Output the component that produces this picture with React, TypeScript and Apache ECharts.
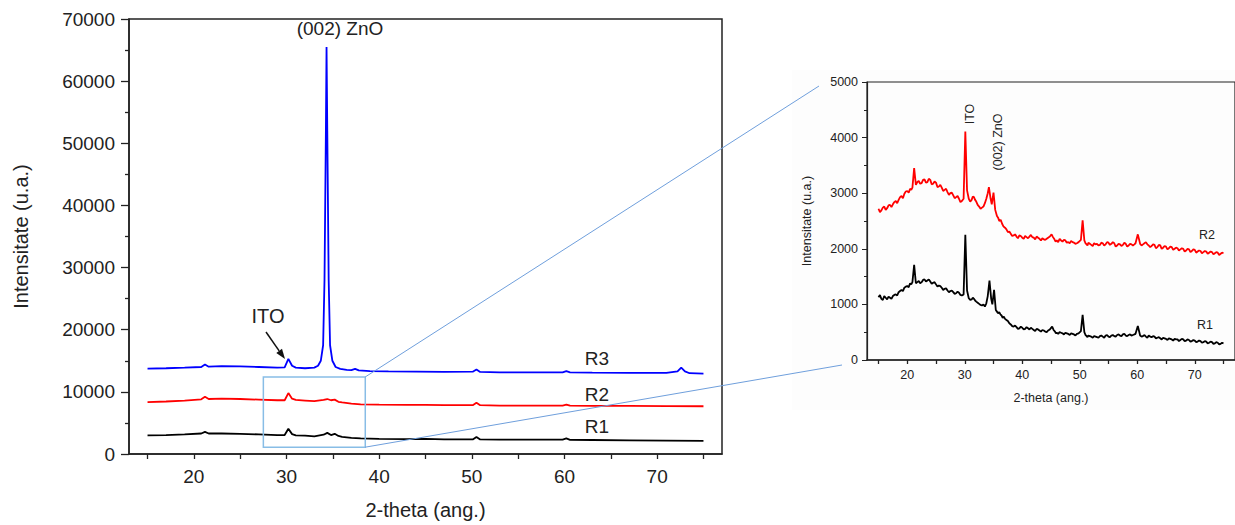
import React, { useEffect, useRef } from "react";
import * as echarts from "echarts";

// ---------- main chart data: [2-theta, intensity] ----------
const mainR3: number[][] = [
  [15, 13750], [17, 13800], [19, 13900], [20.8, 14000], [21.2, 14400], [21.6, 14050], [23, 14150], [25, 14100],
  [27, 14000], [29, 13900], [29.8, 13950], [30.2, 15300], [30.6, 14200], [31, 13900], [32, 13800], [33, 13900],
  [33.4, 14200], [33.7, 15000], [33.95, 17500], [34.1, 28000], [34.25, 52000], [34.32, 65500], [34.4, 52000],
  [34.55, 28000], [34.7, 17500], [34.95, 15000], [35.3, 14000], [35.8, 13700], [36.5, 13550], [37, 13500],
  [37.4, 13700], [37.8, 13450], [39, 13350], [41, 13300], [44, 13250], [47, 13200], [50.1, 13250], [50.5, 13600],
  [50.9, 13200], [53, 13150], [56, 13150], [59.8, 13150], [60.2, 13350], [60.6, 13150], [63, 13100], [67, 13050],
  [71, 13050], [72.2, 13300], [72.6, 13900], [73, 13300], [73.5, 13000], [75, 12950],
];
const mainR2: number[][] = [
  [15, 8350], [17, 8450], [19, 8600], [20.8, 8800], [21.2, 9200], [21.6, 8850], [23, 8900], [25, 8850],
  [27, 8750], [29, 8650], [29.8, 8650], [30.2, 9800], [30.6, 8900], [31, 8700], [32, 8600], [33, 8500],
  [34, 8700], [34.4, 8850], [34.8, 8650], [35.2, 8750], [35.6, 8400], [36, 8300], [37, 8100], [38, 8000],
  [40, 7950], [43, 7900], [45, 7920], [47, 7850], [50.1, 7850], [50.5, 8250], [50.9, 7850], [53, 7800],
  [56, 7800], [59.8, 7800], [60.2, 7950], [60.6, 7780], [63, 7750], [67, 7730], [71, 7700], [75, 7680],
];
const mainR1: number[][] = [
  [15, 3000], [17, 3050], [19, 3150], [20.8, 3300], [21.2, 3550], [21.6, 3300], [23, 3300], [25, 3250],
  [27, 3150], [29, 3050], [29.8, 3050], [30.2, 4050], [30.6, 3200], [31, 3000], [32, 2950], [33, 2850],
  [34, 3100], [34.4, 3400], [34.8, 3050], [35.2, 3250], [35.6, 2900], [36, 2750], [37, 2600], [38, 2500],
  [40, 2450], [43, 2400], [45, 2420], [47, 2350], [50.1, 2350], [50.5, 2750], [50.9, 2350], [53, 2300],
  [56, 2300], [59.8, 2300], [60.2, 2500], [60.6, 2280], [63, 2250], [67, 2200], [71, 2150], [75, 2100],
];

// ---------- inset data ----------
const insetR2: number[][] = [
  [15, 2720], [15.25, 2660], [15.5, 2690], [15.75, 2740], [16, 2760], [16.25, 2700], [16.5, 2730], [16.75, 2780],
  [17, 2790], [17.25, 2750], [17.5, 2800], [17.75, 2840], [18, 2860], [18.25, 2820], [18.5, 2880], [18.75, 2930],
  [19, 2950], [19.25, 2910], [19.5, 2990], [19.75, 3030], [20, 3040], [20.25, 3010], [20.5, 3080], [20.7, 3060],
  [20.9, 3100], [21.2, 3450], [21.5, 3150], [21.75, 3200], [22, 3220], [22.25, 3170], [22.5, 3180], [22.75, 3240],
  [23, 3250], [23.25, 3190], [23.5, 3200], [23.75, 3260], [24, 3240], [24.25, 3160], [24.5, 3170], [24.75, 3210],
  [25, 3190], [25.25, 3110], [25.5, 3120], [25.75, 3150], [26, 3100], [26.25, 3040], [26.5, 3060], [26.75, 3080],
  [27, 3020], [27.25, 2970], [27.5, 3000], [27.75, 3010], [28, 2960], [28.25, 2910], [28.5, 2930], [28.75, 2950],
  [29, 2900], [29.25, 2840], [29.5, 2860], [29.8, 2900], [30.1, 4110], [30.4, 3050], [30.7, 2900], [30.95, 2850],
  [31.2, 2880], [31.4, 2940], [31.6, 2930], [31.8, 2880], [32, 2850], [32.25, 2790], [32.5, 2760], [32.75, 2720],
  [33, 2740], [33.25, 2760], [33.5, 2820], [33.75, 2900], [34, 3000], [34.2, 3110], [34.5, 2900], [34.7, 2800],
  [35.0, 3010], [35.3, 2700], [35.6, 2590], [35.8, 2560], [36, 2500], [36.25, 2520], [36.5, 2450], [36.75, 2400],
  [37, 2380], [37.25, 2350], [37.5, 2300], [37.75, 2310], [38, 2270], [38.25, 2230], [38.5, 2240], [38.75, 2260],
  [39, 2220], [39.25, 2190], [39.5, 2240], [39.75, 2230], [40, 2200], [40.25, 2180], [40.5, 2230], [40.75, 2210],
  [41, 2190], [41.25, 2220], [41.5, 2250], [41.75, 2210], [42, 2200], [42.25, 2170], [42.5, 2220], [42.75, 2200],
  [43, 2180], [43.25, 2150], [43.5, 2190], [43.75, 2170], [44, 2160], [44.25, 2180], [44.5, 2200], [44.8, 2220],
  [45.1, 2260], [45.35, 2210], [45.6, 2170], [45.8, 2130], [46, 2150], [46.25, 2120], [46.5, 2180], [46.75, 2150],
  [47, 2130], [47.25, 2160], [47.5, 2150], [47.75, 2110], [48, 2120], [48.25, 2100], [48.5, 2140], [48.75, 2120],
  [49, 2110], [49.25, 2090], [49.5, 2100], [49.8, 2120], [50.2, 2160], [50.5, 2510], [50.8, 2150], [51.0, 2100],
  [51.2, 2080], [51.35, 2060], [51.5, 2110], [51.75, 2090], [52, 2070], [52.25, 2050], [52.5, 2100], [52.75, 2080],
  [53, 2090], [53.25, 2060], [53.5, 2070], [53.75, 2110], [54, 2100], [54.25, 2060], [54.5, 2080], [54.75, 2120],
  [55, 2110], [55.25, 2070], [55.5, 2090], [55.75, 2120], [56, 2100], [56.25, 2040], [56.5, 2060], [56.75, 2090],
  [57, 2080], [57.25, 2050], [57.5, 2070], [57.75, 2110], [58, 2090], [58.25, 2040], [58.5, 2060], [58.75, 2090],
  [59, 2080], [59.25, 2060], [59.5, 2080], [59.7, 2100], [60.1, 2260], [60.5, 2090], [60.75, 2060], [61, 2080],
  [61.25, 2100], [61.5, 2120], [61.75, 2080], [62, 2060], [62.25, 2030], [62.5, 2050], [62.75, 2080], [63, 2070],
  [63.25, 2010], [63.5, 2030], [63.75, 2070], [64, 2060], [64.25, 2000], [64.5, 2020], [64.75, 2050], [65, 2040],
  [65.25, 1990], [65.5, 2010], [65.75, 2040], [66, 2030], [66.25, 1980], [66.5, 2000], [66.75, 2020], [67, 2010],
  [67.25, 1970], [67.5, 1990], [67.75, 2010], [68, 2000], [68.25, 1950], [68.5, 1970], [68.75, 2000], [69, 1990],
  [69.25, 1940], [69.5, 1960], [69.75, 1990], [70, 1980], [70.25, 1930], [70.5, 1950], [70.75, 1970], [71, 1960],
  [71.25, 1920], [71.5, 1940], [71.75, 1960], [72, 1950], [72.25, 1910], [72.5, 1930], [72.75, 1950], [73, 1940],
  [73.25, 1900], [73.5, 1920], [73.75, 1940], [74, 1930], [74.25, 1890], [74.5, 1910], [74.75, 1930], [75, 1920],
];
const insetR1: number[][] = [
  [15, 1130], [15.25, 1170], [15.5, 1100], [15.75, 1080], [16, 1150], [16.25, 1120], [16.5, 1090], [16.75, 1140],
  [17, 1120], [17.25, 1100], [17.5, 1150], [17.75, 1170], [18, 1180], [18.25, 1160], [18.5, 1220], [18.75, 1240],
  [19, 1260], [19.25, 1240], [19.5, 1300], [19.75, 1320], [20, 1330], [20.25, 1310], [20.5, 1380], [20.7, 1360],
  [20.9, 1400], [21.2, 1710], [21.5, 1380], [21.75, 1400], [22, 1420], [22.25, 1380], [22.5, 1400], [22.75, 1440],
  [23, 1450], [23.25, 1410], [23.5, 1430], [23.75, 1450], [24, 1410], [24.25, 1370], [24.5, 1390], [24.75, 1400],
  [25, 1360], [25.25, 1320], [25.5, 1340], [25.75, 1330], [26, 1300], [26.25, 1260], [26.5, 1280], [26.75, 1290],
  [27, 1250], [27.25, 1220], [27.5, 1240], [27.75, 1250], [28, 1220], [28.25, 1190], [28.5, 1200], [28.75, 1230],
  [29, 1210], [29.25, 1170], [29.5, 1160], [29.8, 1180], [30.1, 2250], [30.4, 1250], [30.7, 1110], [30.95, 1080],
  [31.2, 1090], [31.4, 1120], [31.6, 1100], [31.8, 1070], [32, 1050], [32.25, 1030], [32.5, 1010], [32.75, 990],
  [33, 980], [33.25, 1000], [33.5, 960], [33.75, 1020], [34, 1150], [34.3, 1430], [34.6, 1100], [34.8, 1000],
  [35.1, 1260], [35.4, 900], [35.6, 870], [35.8, 840], [36, 860], [36.2, 820], [36.4, 800], [36.6, 760],
  [36.8, 780], [37, 740], [37.25, 720], [37.5, 700], [37.75, 660], [38, 640], [38.25, 610], [38.5, 600],
  [38.75, 620], [39, 590], [39.25, 560], [39.5, 570], [39.75, 600], [40, 580], [40.25, 550], [40.5, 560],
  [40.75, 590], [41, 570], [41.25, 550], [41.5, 580], [41.75, 560], [42, 540], [42.25, 520], [42.5, 560],
  [42.75, 550], [43, 530], [43.25, 510], [43.5, 540], [43.75, 530], [44, 510], [44.25, 500], [44.5, 530],
  [44.8, 550], [45.2, 600], [45.45, 540], [45.7, 510], [45.85, 480], [46, 490], [46.25, 470], [46.5, 500],
  [46.75, 490], [47, 480], [47.25, 460], [47.5, 490], [47.75, 480], [48, 470], [48.25, 450], [48.5, 480],
  [48.75, 470], [49, 460], [49.25, 440], [49.5, 470], [49.8, 480], [50.2, 520], [50.5, 810], [50.8, 500],
  [51.0, 450], [51.2, 430], [51.35, 410], [51.5, 440], [51.75, 430], [52, 420], [52.25, 400], [52.5, 430],
  [52.75, 420], [53, 410], [53.25, 400], [53.5, 430], [53.75, 440], [54, 420], [54.25, 400], [54.5, 440],
  [54.75, 450], [55, 420], [55.25, 410], [55.5, 440], [55.75, 450], [56, 430], [56.25, 420], [56.5, 450],
  [56.75, 460], [57, 440], [57.25, 430], [57.5, 460], [57.75, 470], [58, 440], [58.25, 430], [58.5, 450],
  [58.75, 460], [59, 440], [59.25, 450], [59.5, 460], [59.7, 470], [60.1, 610], [60.5, 440], [60.75, 420],
  [61, 430], [61.25, 450], [61.5, 420], [61.75, 400], [62, 440], [62.25, 420], [62.5, 410], [62.75, 430],
  [63, 420], [63.25, 390], [63.5, 400], [63.75, 410], [64, 390], [64.25, 370], [64.5, 400], [64.75, 390],
  [65, 380], [65.25, 360], [65.5, 390], [65.75, 380], [66, 370], [66.25, 350], [66.5, 380], [66.75, 370],
  [67, 370], [67.25, 340], [67.5, 360], [67.75, 380], [68, 370], [68.25, 340], [68.5, 350], [68.75, 370],
  [69, 360], [69.25, 330], [69.5, 340], [69.75, 360], [70, 350], [70.25, 320], [70.5, 330], [70.75, 350],
  [71, 340], [71.25, 310], [71.5, 320], [71.75, 340], [72, 330], [72.25, 300], [72.5, 310], [72.75, 330],
  [73, 320], [73.25, 290], [73.5, 300], [73.75, 320], [74, 310], [74.25, 280], [74.5, 290], [74.75, 310],
  [75, 300],
];

// tick values
const xTickValues = [15, 20, 25, 30, 35, 40, 45, 50, 55, 60, 65, 70, 75];
const xLabelValues = [20, 30, 40, 50, 60, 70];
// zoom box in main data coords: [x0, x1, y0, y1]
const zoomBox = [27.5, 38.5, 1100, 12400];

const FONT = "'Liberation Sans', Arial, sans-serif";

export default function App() {
  const ref = useRef<HTMLDivElement>(null);
  useEffect(() => {
    if (!ref.current) return;
    const chart = echarts.init(ref.current, null, { renderer: "svg" });
    const plain = (v: number) => String(v);
    const mkX = (gridIndex: number, fs: number, margin: number, tickLen: number, name: string, nameGap: number, nameFs: number) => ({
      type: "value", gridIndex, min: 13, max: 77,
      name, nameLocation: "middle", nameGap,
      nameTextStyle: { fontSize: nameFs, color: "#222", fontFamily: FONT },
      axisLine: { show: true, onZero: false, lineStyle: { color: "#222", width: 1.5 } },
      axisTick: { show: true, inside: false, length: tickLen, customValues: xTickValues, lineStyle: { color: "#222", width: 1.3 } },
      axisLabel: { customValues: xLabelValues, fontSize: fs, color: "#222", fontFamily: FONT, margin, formatter: plain },
      splitLine: { show: false },
    });
    const option: any = {
      animation: false,
      backgroundColor: "#fff",
      grid: [
        { left: 129, top: 19, width: 593, height: 436, show: true, borderColor: "#222", borderWidth: 1.5, backgroundColor: "transparent" },
        { left: 867, top: 82, width: 380, height: 278, show: true, borderColor: "#222", borderWidth: 1.2, backgroundColor: "transparent" },
      ],
      xAxis: [
        mkX(0, 19, 13, 5, "2-theta (ang.)", 46, 20),
        mkX(1, 12.5, 8, 4, "2-theta (ang.)", 31, 12.5),
      ],
      yAxis: [
        {
          type: "value", gridIndex: 0, min: 0, max: 70000, interval: 10000,
          name: "Intensitate (u.a.)", nameLocation: "middle", nameGap: 98,
          nameTextStyle: { fontSize: 20, color: "#222", fontFamily: FONT },
          axisLine: { show: true, lineStyle: { color: "#222", width: 1.5 } },
          axisTick: { show: true, inside: false, length: 8, lineStyle: { color: "#222", width: 1.3 } },
          minorTick: { show: true, splitNumber: 2, length: 4, lineStyle: { color: "#222", width: 1.3 } },
          axisLabel: { fontSize: 19, color: "#222", fontFamily: FONT, margin: 14, formatter: plain },
          splitLine: { show: false },
        },
        {
          type: "value", gridIndex: 1, min: 0, max: 5000, interval: 1000,
          name: "Intensitate (u.a.)", nameLocation: "middle", nameGap: 54,
          nameTextStyle: { fontSize: 12.5, color: "#222", fontFamily: FONT },
          axisLine: { show: true, lineStyle: { color: "#222", width: 1.2 } },
          axisTick: { show: true, inside: false, length: 5, lineStyle: { color: "#222" } },
          minorTick: { show: true, splitNumber: 2, length: 3, lineStyle: { color: "#222" } },
          axisLabel: { fontSize: 12.5, color: "#222", fontFamily: FONT, margin: 9, formatter: plain },
          splitLine: { show: false },
        },
      ],
      series: [
        { name: "R1", type: "line", xAxisIndex: 0, yAxisIndex: 0, data: mainR1, showSymbol: false, lineStyle: { color: "#000", width: 1.8 }, z: 3 },
        { name: "R2", type: "line", xAxisIndex: 0, yAxisIndex: 0, data: mainR2, showSymbol: false, lineStyle: { color: "#ff0000", width: 1.8 }, z: 3 },
        { name: "R3", type: "line", xAxisIndex: 0, yAxisIndex: 0, data: mainR3, showSymbol: false, lineStyle: { color: "#0000ff", width: 1.8 }, z: 3 },
        { name: "R2 inset", type: "line", xAxisIndex: 1, yAxisIndex: 1, data: insetR2, showSymbol: false, lineStyle: { color: "#ff0000", width: 1.8 }, z: 3 },
        { name: "R1 inset", type: "line", xAxisIndex: 1, yAxisIndex: 1, data: insetR1, showSymbol: false, lineStyle: { color: "#000", width: 1.8 }, z: 3 },
      ],
    };
    chart.setOption(option);

    const p0 = chart.convertToPixel({ gridIndex: 0 }, [zoomBox[0], zoomBox[3]]) as number[];
    const p1 = chart.convertToPixel({ gridIndex: 0 }, [zoomBox[1], zoomBox[2]]) as number[];
    const lineColor = "#6f9fdc";
    const txt = (text: string, x: number, y: number, fs: number, rotation = 0) => ({
      type: "text", x, y, rotation, z: 10,
      style: { text, fontSize: fs, fontFamily: FONT, fill: "#222", align: "center", verticalAlign: "middle" },
    });
    const tip = [285, 359];
    const dir = [0.584, 0.811];
    const perp = [-dir[1], dir[0]];
    const back = [tip[0] - dir[0] * 10, tip[1] - dir[1] * 10];
    chart.setOption({
      graphic: [
        { type: "rect", z: -10, silent: true, shape: { x: 792, y: 70, width: 443, height: 340 }, style: { fill: "#fdfdfd" } },
        { type: "rect", z: 5, shape: { x: p0[0], y: p0[1], width: p1[0] - p0[0], height: p1[1] - p0[1] }, style: { fill: "none", stroke: "#88bde6", lineWidth: 1.5 } },
        { type: "line", z: 5, shape: { x1: p1[0], y1: p0[1], x2: 819, y2: 86 }, style: { stroke: lineColor, lineWidth: 1 } },
        { type: "line", z: 5, shape: { x1: p1[0], y1: p1[1], x2: 842, y2: 365 }, style: { stroke: lineColor, lineWidth: 1 } },
        { type: "line", z: 6, shape: { x1: 266, y1: 332, x2: back[0], y2: back[1] }, style: { stroke: "#111", lineWidth: 1.5 } },
        {
          type: "polygon", z: 6,
          shape: { points: [tip, [back[0] + perp[0] * 3.5, back[1] + perp[1] * 3.5], [back[0] - perp[0] * 3.5, back[1] - perp[1] * 3.5]] },
          style: { fill: "#111" },
        },
        txt("(002) ZnO", 340, 28, 19),
        txt("ITO", 268, 316, 20),
        txt("R3", 597, 358, 19),
        txt("R2", 597, 394, 19),
        txt("R1", 597, 426, 19),
        txt("ITO", 970, 114, 12.5, Math.PI / 2),
        txt("(002) ZnO", 998, 142, 12.5, Math.PI / 2),
        txt("R2", 1207, 235, 12.5),
        txt("R1", 1205, 325, 12.5),
      ],
    });
    return () => chart.dispose();
  }, []);
  return <div ref={ref} style={{ position: "fixed", left: 0, top: 0, width: 1235, height: 525 }} />;
}
